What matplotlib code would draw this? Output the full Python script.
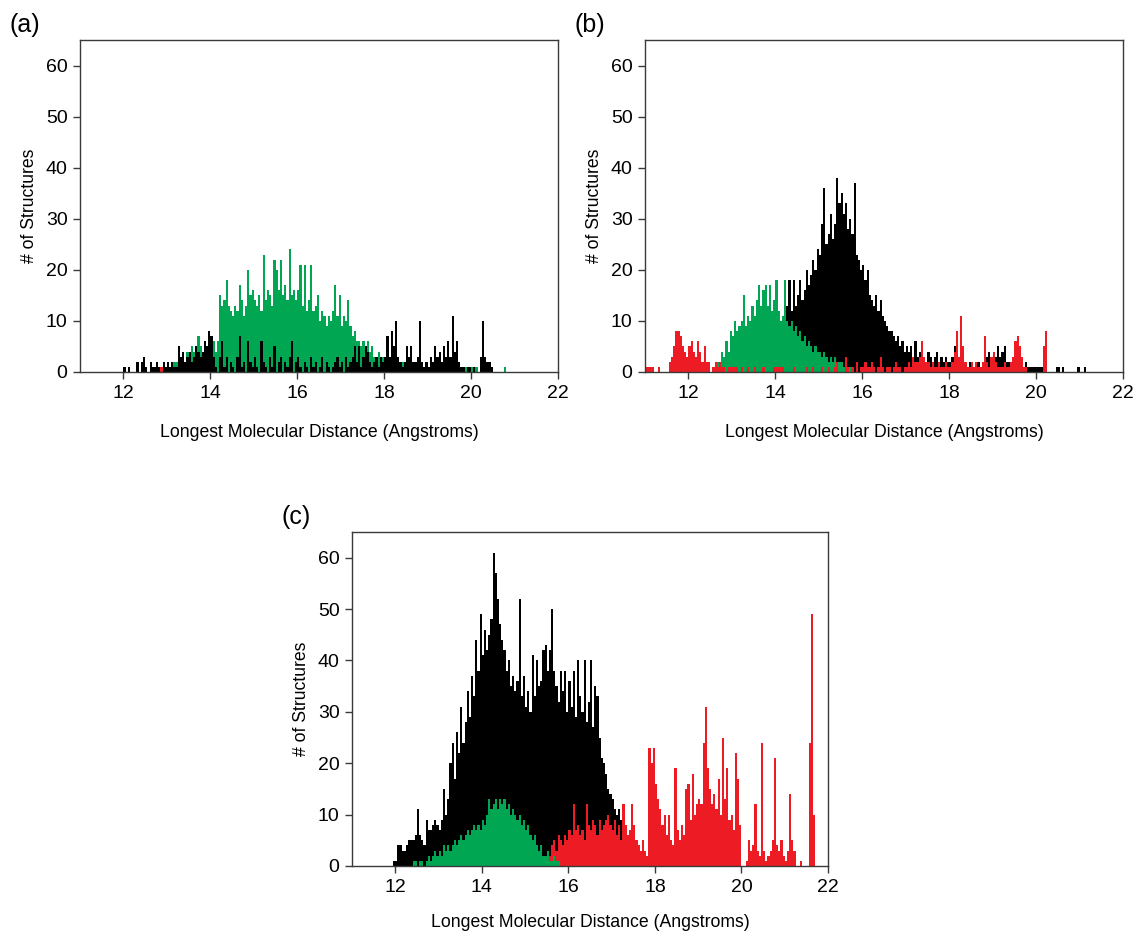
import numpy as np
import matplotlib
matplotlib.use("Agg")
import matplotlib.pyplot as plt

plt.rcParams["font.family"] = ["Liberation Sans", "DejaVu Sans"]

# Histogram bin width (Angstroms)
BIN = 0.05

GREEN = "#00A651"
RED = "#ED1C24"
BLACK = "#000000"

# ---------------- panel (a) ----------------
a_green_start = 13.00
a_green = [
    0, 0, 1, 2, 2, 2, 3, 3, 2, 4, 3, 5, 4, 5, 7, 5, 4, 6, 5, 6,
    5, 6, 4, 6, 15, 13, 14, 18, 13, 12, 11, 13, 12, 17, 14, 11, 13, 20, 15, 16,
    14, 13, 15, 12, 23, 14, 16, 15, 13, 22, 20, 16, 22, 15, 17, 14, 24, 15, 16, 14,
    16, 21, 13, 21, 12, 14, 21, 12, 13, 15, 10, 12, 11, 9, 11, 10, 12, 17, 11, 15,
    9, 11, 10, 14, 9, 7, 8, 6, 6, 5, 6, 5, 6, 4, 5, 3, 3, 4, 3, 3,
    2, 2, 1, 2, 2, 1, 2, 1, 2, 1, 1, 2, 1, 1, 2, 1, 1, 2, 1, 1,
    1, 1, 2, 1, 1, 1, 1, 1, 1, 1, 1, 1, 1, 1, 1, 1, 1, 1, 1, 1,
    1, 1, 1, 0, 0, 0, 0, 0, 1, 1, 0, 0, 0, 0, 0, 1,
]
a_red_start = 12.60
a_red = [1, 1, 1, 2, 1, 1, 2, 1, 1, 1]
a_black_start = 12.00
a_black = [
    1, 0, 1, 0, 0, 0, 2, 0, 2, 3, 1, 0, 2, 1, 1, 2, 1, 0, 2, 1,
    2, 1, 2, 1, 1, 5, 3, 4, 2, 3, 4, 2, 3, 5, 4, 3, 4, 6, 5, 8,
    7, 3, 1, 0, 3, 6, 1, 3, 0, 2, 1, 0, 3, 7, 1, 2, 0, 6, 2, 1,
    3, 1, 0, 6, 2, 1, 0, 3, 1, 5, 0, 2, 3, 0, 2, 1, 3, 6, 0, 2,
    3, 1, 0, 2, 1, 0, 3, 1, 2, 0, 1, 3, 0, 2, 1, 0, 1, 2, 3, 1,
    2, 0, 3, 1, 2, 3, 5, 2, 5, 1, 3, 5, 4, 2, 1, 2, 3, 1, 3, 2,
    3, 7, 3, 8, 5, 10, 3, 2, 1, 2, 5, 3, 5, 2, 2, 3, 10, 2, 1, 2,
    1, 3, 2, 5, 3, 4, 2, 5, 3, 6, 3, 11, 4, 6, 2, 1, 1, 0, 1, 1,
    0, 1, 0, 0, 3, 10, 3, 2, 2, 1,
]

# ---------------- panel (b) ----------------
b_black_start = 14.00
b_black = [
    3, 5, 8, 10, 12, 13, 18, 12, 18, 13, 15, 18, 14, 16, 20, 17, 19, 22, 20, 24,
    23, 29, 36, 25, 27, 31, 26, 29, 38, 33, 35, 31, 33, 28, 30, 27, 37, 23, 22, 20,
    21, 18, 20, 15, 14, 13, 15, 12, 14, 11, 10, 9, 8, 8, 7, 6, 7, 5, 6, 4,
    5, 4, 5, 3, 6, 3, 4, 3, 3, 2, 4, 3, 2, 3, 4, 2, 3, 2, 3, 2,
    2, 3, 5, 2, 2, 1, 2, 2, 1, 2, 2, 1, 2, 2, 1, 2, 2, 3, 4, 3,
    4, 3, 5, 3, 4, 5, 2, 2, 1, 2, 1, 2, 1, 2, 1, 2, 1, 1, 1, 1,
    1, 1, 1, 0, 0, 0, 0, 0, 0, 1, 1, 0, 1, 0, 0, 0, 0, 0, 0, 1,
    0, 0, 1,
]
b_green_start = 12.55
b_green = [
    1, 2, 2, 2, 4, 3, 6, 4, 8,
    7, 10, 8, 9, 10, 15, 9, 11, 10, 13, 11, 14, 17, 13, 16, 17, 13, 17, 12, 14,
    18, 12, 10, 11, 18, 10, 9, 10, 8, 9, 7, 8, 6, 7, 5, 6, 5, 4, 5, 4,
    4, 3, 4, 3, 2, 3, 2, 3, 2, 2, 2, 1, 2, 1, 1, 1,
]
b_red_start = 11.00
b_red = [
    1, 1, 1, 1, 0, 0, 1, 0, 0, 0, 0, 2, 3, 5, 8, 8, 7, 5, 4, 3,
    5, 6, 4, 3, 6, 4, 2, 5, 2, 2, 0, 1, 2, 1, 2, 1, 1, 0, 1, 1,
    1, 1, 1, 0, 1, 0, 0, 1, 0, 0, 1, 0, 0, 0, 1, 0, 0, 0, 0, 1,
    1, 1, 1, 1, 0, 0, 0, 0, 1, 0, 0, 0, 0, 0, 1, 0, 0, 1, 0, 0,
    0, 1, 0, 0, 1, 0, 0, 1, 2, 0, 0, 0, 3, 1, 0, 1, 0, 2, 0, 1,
    1, 2, 1, 1, 2, 1, 0, 1, 3, 1, 0, 1, 1, 0, 1, 2, 1, 1, 0, 1,
    1, 2, 1, 3, 2, 2, 3, 6, 3, 2, 2, 1, 2, 1, 1, 2, 1, 1, 2, 1,
    1, 2, 4, 8, 3, 11, 5, 2, 1, 1, 2, 1, 2, 1, 1, 2, 7, 2, 1, 3,
    4, 2, 1, 1, 1, 2, 1, 1, 2, 3, 6, 7, 5, 3, 1, 1, 0, 0, 0, 0,
    0, 0, 0, 5, 8,
]

# ---------------- panel (c) ----------------
c_black_start = 11.95
c_black = [
    1,
    1, 4, 4, 3, 3, 4, 5, 5, 5, 6, 11, 6, 5, 4, 9, 7, 7, 8, 9, 8,
    7, 9, 15, 10, 13, 20, 24, 17, 26, 22, 31, 24, 28, 34, 29, 37, 33, 44, 38, 49,
    41, 46, 42, 45, 48, 61, 57, 52, 47, 44, 42, 38, 40, 35, 37, 34, 36, 52, 33, 37,
    31, 34, 30, 41, 33, 40, 35, 36, 42, 43, 38, 42, 50, 38, 35, 32, 38, 34, 38, 30,
    36, 31, 38, 29, 40, 33, 30, 40, 28, 32, 40, 27, 35, 33, 25, 21, 20, 18, 15, 14,
    13, 11, 10, 11, 9, 7, 5, 3, 2,
]
c_red_start = 15.40
c_red = [
    1, 2, 3, 2, 4, 5, 3, 6, 5, 4, 6, 5,
    7, 6, 12, 7, 8, 6, 7, 5, 12, 8, 7, 9, 8, 6, 9, 7, 8, 9, 10, 8,
    7, 9, 6, 8, 5, 12, 8, 6, 7, 12, 8, 5, 4, 3, 5, 3, 2, 23, 20, 23,
    16, 13, 11, 8, 10, 6, 10, 5, 4, 19, 7, 5, 8, 6, 15, 16, 9, 18, 10, 12,
    13, 12, 24, 31, 19, 15, 12, 14, 11, 17, 10, 25, 13, 19, 9, 10, 7, 22, 17, 8,
    0, 0, 1, 5, 3, 4, 12, 3, 2, 24, 3, 1, 2, 3, 5, 21, 4, 3, 5, 2,
    1, 3, 14, 5, 3, 0, 0, 1, 0, 0, 0, 24, 49, 10,
]
c_green_start = 12.40
c_green = [
    1, 1, 0, 1, 1, 0, 1, 2, 1, 2, 3, 2,
    3, 2, 4, 3, 4, 3, 4, 5, 4, 5, 6, 5, 6, 7, 6, 7, 8, 7, 8, 7,
    9, 8, 10, 13, 11, 12, 13, 11, 13, 12, 13, 11, 12, 10, 11, 10, 9, 10, 8, 9,
    7, 8, 6, 5, 6, 4, 3, 4, 2, 2, 3, 1, 1, 2, 1, 1,
]

X_TICKS = [12, 14, 16, 18, 20, 22]
Y_TICKS = [0, 10, 20, 30, 40, 50, 60]
XLABEL = "Longest Molecular Distance (Angstroms)"
YLABEL = "# of Structures"


def draw_hist(ax, start, counts, color):
    edges = start + BIN * np.arange(len(counts) + 1)
    ax.stairs(counts, edges, fill=True, color=color, linewidth=0)


def style_axes(ax, letter, xlabel_y=-0.158):
    ax.set_xlim(11, 22)
    ax.set_ylim(0, 65)
    ax.set_xticks(X_TICKS)
    ax.set_yticks(Y_TICKS)
    for side in ["left", "bottom", "top", "right"]:
        ax.spines[side].set_color("#3a3a3a")
        ax.spines[side].set_linewidth(1.0)
    ax.tick_params(axis="both", direction="out", length=5, width=1.0,
                   color="#3a3a3a", labelsize=14, pad=4)
    ax.tick_params(top=False, right=False)
    ax.set_xlabel(XLABEL, fontsize=12.7)
    ax.set_ylabel(YLABEL, fontsize=12.7)
    ax.xaxis.set_label_coords(0.5, xlabel_y)
    ax.yaxis.set_label_coords(-0.088, 0.5)
    ax.text(-0.148, 1.045, letter, transform=ax.transAxes, fontsize=18,
            ha="left", va="center")


W, H = 1133, 933
fig = plt.figure(figsize=(W / 100, H / 100), dpi=100)

ax_a = fig.add_axes([80 / W, 1 - 372 / H, 478 / W, 332 / H])
ax_b = fig.add_axes([645 / W, 1 - 372 / H, 478 / W, 332 / H])
ax_c = fig.add_axes([352 / W, 1 - 866 / H, 476 / W, 334 / H])

# (a): green underneath, black on top
draw_hist(ax_a, a_green_start, a_green, GREEN)
draw_hist(ax_a, a_red_start, a_red, RED)
draw_hist(ax_a, a_black_start, a_black, BLACK)
style_axes(ax_a, "(a)")

# (b): black underneath, green then red on top
draw_hist(ax_b, b_black_start, b_black, BLACK)
draw_hist(ax_b, b_green_start, b_green, GREEN)
draw_hist(ax_b, b_red_start, b_red, RED)
style_axes(ax_b, "(b)")

# (c): black underneath, red then green on top
draw_hist(ax_c, c_black_start, c_black, BLACK)
draw_hist(ax_c, c_red_start, c_red, RED)
draw_hist(ax_c, c_green_start, c_green, GREEN)
style_axes(ax_c, "(c)", xlabel_y=-0.145)

fig.savefig("out.png", dpi=100)
